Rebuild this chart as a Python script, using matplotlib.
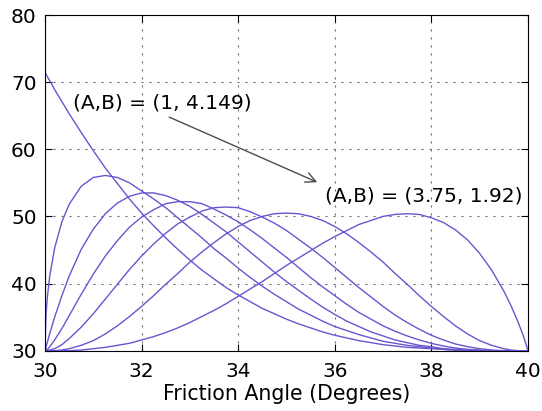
import matplotlib
matplotlib.use('Agg')
import matplotlib.pyplot as plt

plt.rcParams['font.family'] = ['DejaVu Sans']

# Friction angle sample positions (degrees)
friction_angle = [30, 30.02, 30.05, 30.1, 30.2, 30.35, 30.5, 30.75,
                  31, 31.25, 31.5, 31.75, 32, 32.25, 32.5, 32.75,
                  33, 33.25, 33.5, 33.75, 34, 34.25, 34.5, 34.75,
                  35, 35.25, 35.5, 35.75, 36, 36.25, 36.5, 36.75,
                  37, 37.25, 37.5, 37.75, 38, 38.25, 38.5, 38.75,
                  39, 39.25, 39.5, 39.65, 39.8, 39.9, 39.95, 39.98, 40]

# Curve values
curve_1 = [71.5, 71.2, 70.8, 70.2, 68.9, 67.1, 65.3, 62.5,
           59.8, 57.2, 54.9, 52.6, 50.5, 48.6, 46.8, 45.1,
           43.5, 42.0, 40.7, 39.4, 38.3, 37.3, 36.3, 35.5,
           34.7, 34.0, 33.4, 32.8, 32.3, 31.9, 31.5, 31.2,
           30.9, 30.7, 30.5, 30.4, 30.3, 30.2, 30.1, 30.1,
           30.0, 30.0, 30.0, 30.0, 30.0, 30.0, 30.0, 30.0, 30.0]
curve_2 = [30.0, 35.2, 38.1, 41.2, 45.3, 49.2, 51.8, 54.5,
           55.8, 56.1, 55.8, 55.0, 53.8, 52.6, 51.3, 49.8,
           48.3, 46.8, 45.2, 43.8, 42.3, 40.9, 39.6, 38.4,
           37.3, 36.2, 35.3, 34.4, 33.6, 33.0, 32.4, 31.9,
           31.4, 31.1, 30.8, 30.6, 30.4, 30.2, 30.1, 30.1,
           30.0, 30.0, 30.0, 30.0, 30.0, 30.0, 30.0, 30.0, 30.0]
curve_3 = [30.0, 30.5, 31.3, 32.6, 35.0, 38.2, 41.1, 45.1,
           48.1, 50.4, 52.0, 53.0, 53.5, 53.5, 53.1, 52.4,
           51.5, 50.3, 49.0, 47.7, 46.2, 44.7, 43.2, 41.7,
           40.3, 39.0, 37.7, 36.5, 35.4, 34.4, 33.6, 32.8,
           32.2, 31.6, 31.2, 30.8, 30.6, 30.3, 30.2, 30.1,
           30.0, 30.0, 30.0, 30.0, 30.0, 30.0, 30.0, 30.0, 30.0]
curve_4 = [30.0, 30.1, 30.2, 30.6, 31.6, 33.3, 35.2, 38.4,
           41.4, 44.1, 46.4, 48.4, 49.9, 51.0, 51.9, 52.2,
           52.2, 51.9, 51.1, 50.2, 49.2, 48.0, 46.7, 45.3,
           43.9, 42.4, 40.9, 39.5, 38.2, 36.9, 35.7, 34.7,
           33.7, 32.9, 32.2, 31.6, 31.1, 30.7, 30.4, 30.2,
           30.1, 30.0, 30.0, 30.0, 30.0, 30.0, 30.0, 30.0, 30.0]
curve_5 = [30.0, 30.0, 30.0, 30.1, 30.3, 30.9, 31.8, 33.5,
           35.5, 37.7, 39.9, 42.1, 44.1, 45.9, 47.5, 48.9,
           49.9, 50.8, 51.3, 51.4, 51.3, 50.7, 49.9, 49.0,
           47.9, 46.6, 45.3, 43.9, 42.4, 40.9, 39.4, 38.0,
           36.6, 35.3, 34.2, 33.2, 32.3, 31.6, 31.0, 30.6,
           30.3, 30.1, 30.0, 30.0, 30.0, 30.0, 30.0, 30.0, 30.0]
curve_6 = [30.0, 30.0, 30.0, 30.0, 30.0, 30.1, 30.3, 30.8,
           31.5, 32.5, 33.7, 35.1, 36.6, 38.2, 39.9, 41.5,
           43.2, 44.7, 46.1, 47.4, 48.5, 49.4, 50.0, 50.4,
           50.5, 50.4, 50.0, 49.4, 48.5, 47.4, 46.1, 44.7,
           43.2, 41.5, 39.9, 38.2, 36.6, 35.1, 33.7, 32.5,
           31.5, 30.8, 30.3, 30.1, 30.0, 30.0, 30.0, 30.0, 30.0]
curve_7 = [30.0, 30.0, 30.0, 30.0, 30.0, 30.0, 30.0, 30.1,
           30.3, 30.5, 30.8, 31.1, 31.6, 32.1, 32.7, 33.4,
           34.2, 35.1, 36.0, 37.0, 38.1, 39.2, 40.3, 41.5,
           42.7, 43.8, 44.9, 46.0, 47.0, 47.9, 48.8, 49.4,
           50.0, 50.3, 50.4, 50.3, 49.8, 49.1, 48.0, 46.5,
           44.5, 42.0, 38.9, 36.7, 34.2, 32.3, 31.2, 30.5, 30.0]

curves = [curve_1, curve_2, curve_3, curve_4, curve_5, curve_6, curve_7]

x_ticks = [30, 32, 34, 36, 38, 40]
y_ticks = [30, 40, 50, 60, 70, 80]

label_first = '(A,B) = (1, 4.149)'
label_last = '(A,B) = (3.75, 1.92)'

fig = plt.figure(figsize=(5.42, 4.11), dpi=100)
ax = fig.add_axes([0.083, 0.1467, 0.891, 0.8168])
for ys in curves:
    ax.plot(friction_angle, ys, color='#6a55d0', lw=1.0)

ax.set_xlim(30, 40)
ax.set_ylim(30, 80)
ax.set_xticks(x_ticks)
ax.set_yticks(y_ticks)
ax.grid(True, linestyle=(0, (1.8, 5.4)), color='0.4', linewidth=0.8)
ax.tick_params(direction='in', top=True, right=True, length=5, labelsize=14.5)
ax.tick_params(axis='x', pad=8)
ax.tick_params(axis='y', pad=6)
ax.set_xlabel('Friction Angle (Degrees)', fontsize=14.8, labelpad=2.5)

ax.text(30.58, 66.9, label_first, fontsize=14.5, va='center', ha='left')
ax.text(35.80, 52.97, label_last, fontsize=14.5, va='center', ha='left')
ax.annotate('', xy=(35.69, 54.93), xytext=(32.52, 64.96),
            arrowprops=dict(arrowstyle='->', color='0.3', lw=1.0, mutation_scale=18))

fig.savefig('out.png', dpi=100)
